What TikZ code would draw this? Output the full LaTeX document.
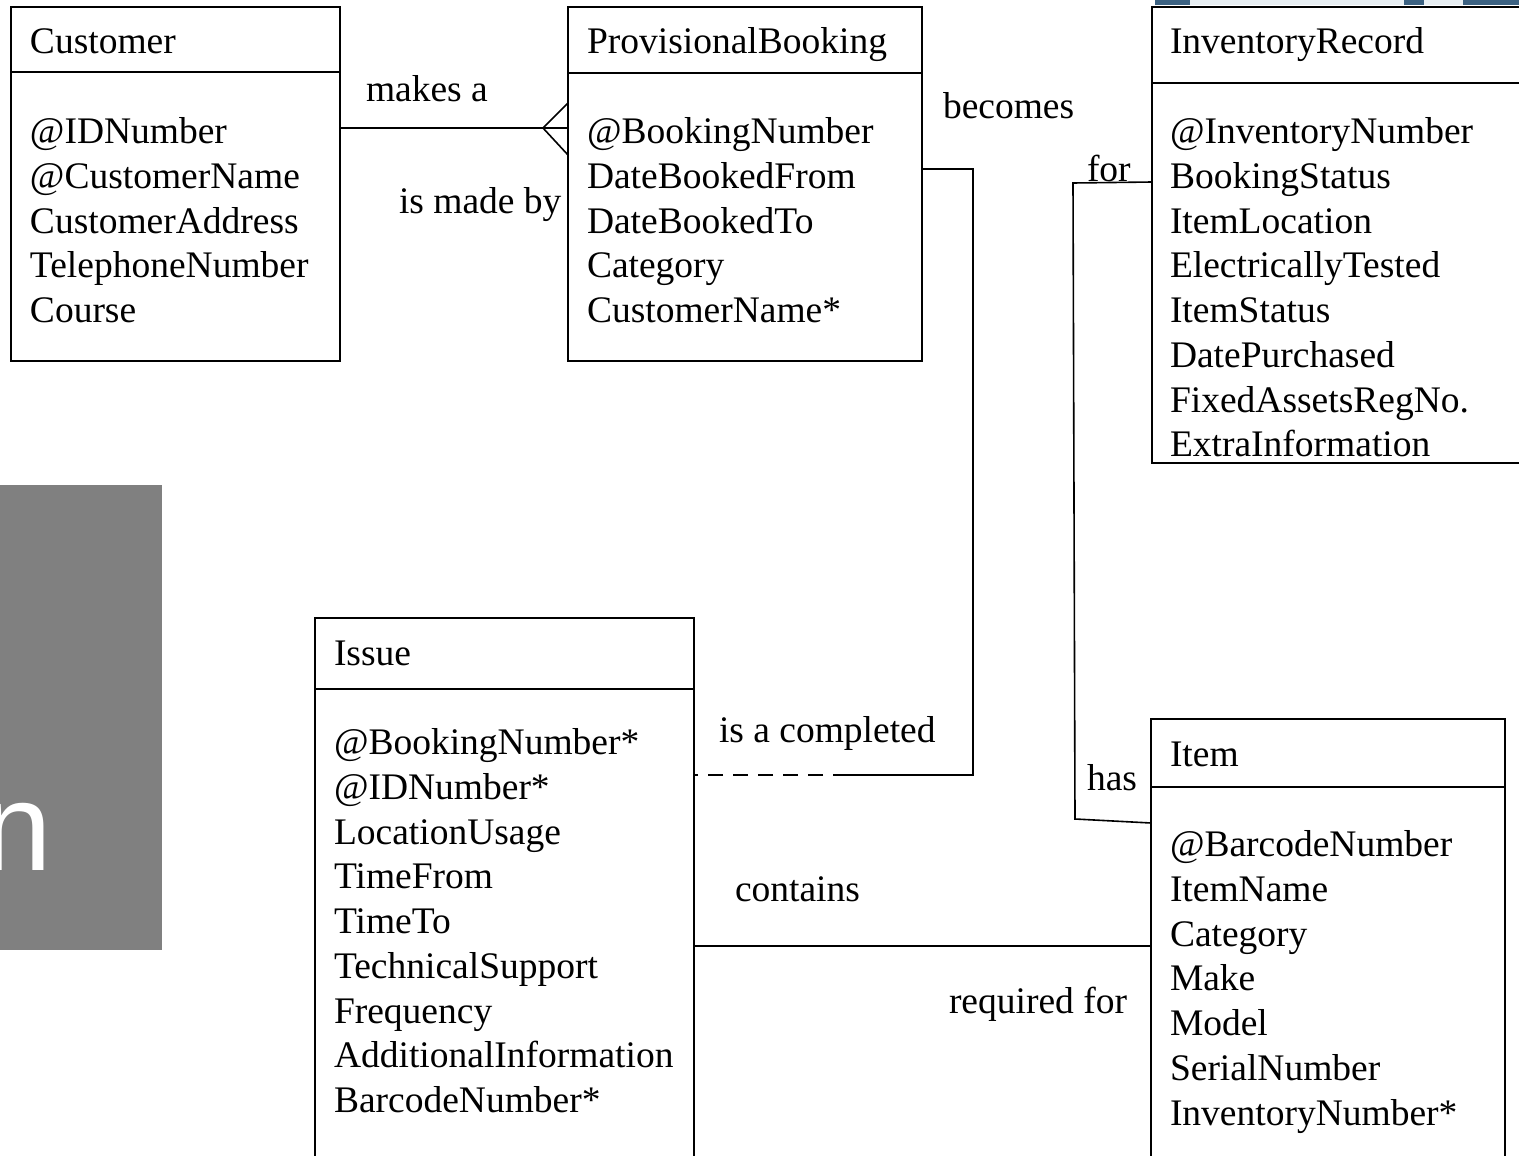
\documentclass[tikz,border=0pt]{standalone}
\usepackage{fontspec}
\setmainfont{Liberation Serif}
\newfontfamily\panelfont{Liberation Sans}
\definecolor{bannerdark}{HTML}{3C6282}
\definecolor{bannerpale}{HTML}{E8EFF3}
\definecolor{panelgrey}{HTML}{808080}
\begin{document}
\begin{tikzpicture}[x=1pt,y=-1pt,
  every node/.style={inner sep=0pt,outer sep=0pt},
  entity/.style={draw,line width=1.6pt,rectangle,anchor=north west},
  link/.style={line width=1.6pt},
  dashlink/.style={line width=1.6pt,dash pattern=on 15pt off 10pt},
  txt/.style={anchor=base west,font=\fontsize{37.5}{44.75}\selectfont},
]
\useasboundingbox (0,0) rectangle (1519,1156);
\clip (0,0) rectangle (1519,1156);

% strip of the slide banner along the top edge
\fill[bannerdark] (1155,0) rectangle (1190,5);
\fill[bannerpale] (1190,0) rectangle (1404,5);
\fill[bannerdark] (1404,0) rectangle (1424,5);
\fill[bannerpale] (1424,0) rectangle (1463,5);
\fill[bannerdark] (1463,0) rectangle (1519,5);

% grey side panel
\node[fill=panelgrey,minimum width=162pt,minimum height=465pt,anchor=north west] (panel) at (0,485) {};
\node[anchor=base west,text=white,font=\panelfont\fontsize{125}{150}\selectfont] (paneltext) at (-17,870) {n};

% entity boxes
\node[entity,minimum width=329pt,minimum height=354pt] (cust) at (11,7) {};
\node[entity,minimum width=354pt,minimum height=354pt] (pb) at (568,7) {};
\node[entity,minimum width=408pt,minimum height=456pt] (ir) at (1152,7) {};
\node[entity,minimum width=379pt,minimum height=582pt] (issue) at (315,618) {};
\node[entity,minimum width=354pt,minimum height=481pt] (item) at (1151,719) {};

% title separators
\draw[link] ([yshift=-65pt]cust.north west) -- ([yshift=-65pt]cust.north east);
\draw[link] ([yshift=-66pt]pb.north west) -- ([yshift=-66pt]pb.north east);
\draw[link] ([yshift=-76pt]ir.north west) -- ([yshift=-76pt]ir.north east);
\draw[link] ([yshift=-71pt]issue.north west) -- ([yshift=-71pt]issue.north east);
\draw[link] ([yshift=-68pt]item.north west) -- ([yshift=-68pt]item.north east);

% titles
\node[txt] (cust-title) at (30,54) {Customer};
\node[txt] (pb-title) at (587,54) {ProvisionalBooking};
\node[txt] (ir-title) at (1170,54) {InventoryRecord};
\node[txt] (issue-title) at (334,665) {Issue};
\node[txt] (item-title) at (1170,766) {Item};

% attributes
\foreach \t [count=\i] in {@IDNumber,@CustomerName,CustomerAddress,TelephoneNumber,Course}
  \node[txt] (cust-\i) at (30,{143.5+44.75*(\i-1)}) {\t};
\foreach \t [count=\i] in {@BookingNumber,DateBookedFrom,DateBookedTo,Category,CustomerName*}
  \node[txt] (pb-\i) at (587,{143.5+44.75*(\i-1)}) {\t};
\foreach \t [count=\i] in {@InventoryNumber,BookingStatus,ItemLocation,ElectricallyTested,ItemStatus,DatePurchased,FixedAssetsRegNo.,ExtraInformation}
  \node[txt] (ir-\i) at (1170,{143.5+44.75*(\i-1)}) {\t};
\foreach \t [count=\i] in {@BookingNumber*,@IDNumber*,LocationUsage,TimeFrom,TimeTo,TechnicalSupport,Frequency,AdditionalInformation,BarcodeNumber*}
  \node[txt] (issue-\i) at (334,{754.5+44.75*(\i-1)}) {\t};
\foreach \t [count=\i] in {@BarcodeNumber,ItemName,Category,Make,Model,SerialNumber,InventoryNumber*}
  \node[txt] (item-\i) at (1170,{856.5+44.75*(\i-1)}) {\t};

% Customer -- ProvisionalBooking, crow's foot at the booking end
\coordinate (crow) at (543,128);
\draw[link] ([yshift=-121pt]cust.north east) -- ([yshift=-121pt]pb.north west);
\draw[link] ([yshift=-96pt]pb.north west) -- (crow) -- ([yshift=-148pt]pb.north west);
\node[txt] (lbl-makes) at (366,102) {makes a};
\node[txt] (lbl-madeby) at (399,213) {is made by};

% ProvisionalBooking -- Issue
\coordinate (pbbend) at (973,775);
\coordinate (dashstart) at (848,775);
\draw[link] ([yshift=-162pt]pb.north east) -| (pbbend) -- (dashstart);
\draw[dashlink] (dashstart) -- ([yshift=-157pt]issue.north east);
\node[txt] (lbl-becomes) at (943,118) {becomes};
\node[txt] (lbl-completed) at (719,742) {is a completed};

% InventoryRecord -- Item
\coordinate (irbendtop) at (1073,183);
\coordinate (irbendbot) at (1075,819);
\draw[link] ([yshift=-175pt]ir.north west) -- (irbendtop) -- (irbendbot) -- ([yshift=-104pt]item.north west);
\node[txt] (lbl-for) at (1087,181) {for};
\node[txt] (lbl-has) at (1087,790) {has};

% Issue -- Item
\draw[link] ([yshift=-328pt]issue.north east) -- ([yshift=-227pt]item.north west);
\node[txt] (lbl-contains) at (735,901) {contains};
\node[txt] (lbl-required) at (949,1013) {required for};
\end{tikzpicture}
\end{document}
